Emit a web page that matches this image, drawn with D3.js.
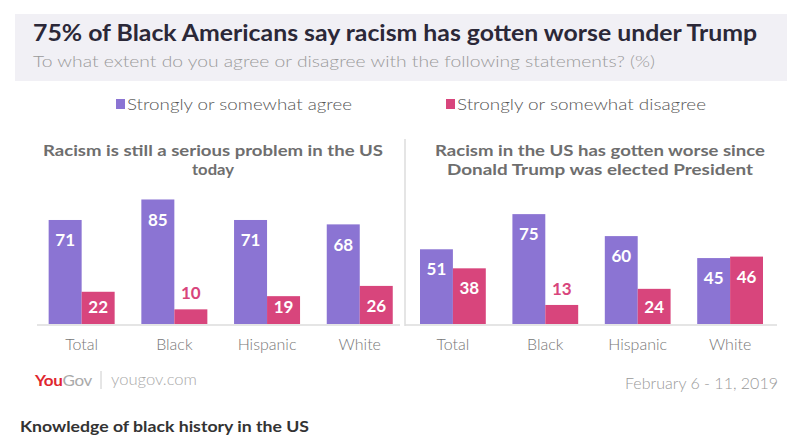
<!DOCTYPE html>
<html><head><meta charset="utf-8">
<script src="https://cdn.jsdelivr.net/npm/d3@7"></script>
<style>body{margin:0;background:#fff;}svg{display:block;font-family:Lato,"Open Sans",sans-serif;}</style>
</head><body><svg id="c" width="800" height="441"></svg>
<script>
const categories = ["Total","Black","Hispanic","White"];
const seriesNames = ["Strongly or somewhat agree","Strongly or somewhat disagree"];
const panelTitles = [["Racism is still a serious problem in the US","today"],["Racism in the US has gotten worse since","Donald Trump was elected President"]];
const p1Agree = [71,85,71,68];
const p1Disagree = [22,10,19,26];
const p2Agree = [51,75,60,45];
const p2Disagree = [38,13,24,46];
const colors = ["#8b74d3","#d8457c"];

const svg = d3.select("#c");
svg.append("rect").attr("x",15).attr("y",14).attr("width",772).attr("height",67).attr("fill","#f1f0f5");
svg.append("text").attr("x",33).attr("y",41).attr("font-size",22).attr("font-weight",700).attr("fill","#2b2838")
  .attr("textLength",724).attr("lengthAdjust","spacingAndGlyphs")
  .text("75% of Black Americans say racism has gotten worse under Trump");
svg.append("text").attr("x",33).attr("y",67).attr("font-size",16.5).attr("font-weight",300).attr("fill","#9a9a9a")
  .attr("textLength",622).attr("lengthAdjust","spacingAndGlyphs")
  .text("To what extent do you agree or disagree with the following statements? (%)");

// legend
const legX = [116,446], legW=[225,249];
seriesNames.forEach((s,i)=>{
  svg.append("rect").attr("x",legX[i]).attr("y",99).attr("width",9).attr("height",10).attr("fill",colors[i]);
  svg.append("text").attr("x",legX[i]+11).attr("y",110).attr("font-size",16).attr("font-weight",300).attr("fill","#555")
    .attr("textLength",legW[i]).attr("lengthAdjust","spacingAndGlyphs").text(s);
});

// divider
svg.append("line").attr("x1",405).attr("x2",405).attr("y1",139).attr("y2",326).attr("stroke","#ddd").attr("stroke-width",1.5);

const baseY = 324;
const y = d3.scaleLinear().domain([0,100]).range([baseY, baseY-146.5]);
const panels = [
  {range:[35.3,406.1], agree:p1Agree, dis:p1Disagree, title:panelTitles[0], cx:213, tl:[340,42], axis:[37,400]},
  {range:[406.7,776.3], agree:p2Agree, dis:p2Disagree, title:panelTitles[1], cx:600, tl:[330,306], axis:[405,777]}
];
panels.forEach(p=>{
  p.title.forEach((t,j)=>{
    svg.append("text").attr("x",p.cx).attr("y",156+j*19).attr("text-anchor","middle").attr("font-size",15.5).attr("font-weight",700).attr("fill","#6e6e6e")
      .attr("textLength",p.tl[j]).attr("lengthAdjust","spacingAndGlyphs").text(t);
  });
  const x0 = d3.scaleBand().domain(categories).range(p.range).paddingInner(0.288).paddingOuter(0.144);
  const x1 = d3.scaleBand().domain([0,1]).range([0,x0.bandwidth()]);
  svg.append("line").attr("x1",p.axis[0]).attr("x2",p.axis[1]).attr("y1",baseY+1).attr("y2",baseY+1).attr("stroke","#ddd").attr("stroke-width",1.5);
  categories.forEach((c,ci)=>{
    [p.agree[ci],p.dis[ci]].forEach((v,si)=>{
      const bx = x0(c)+x1(si), top = y(v);
      svg.append("rect").attr("x",bx).attr("y",top).attr("width",x1.bandwidth()).attr("height",baseY-top).attr("fill",colors[si]);
      const inside = baseY-top > 25;
      const ly = inside ? Math.min(top+20, baseY-17) : top-16;
      svg.append("text").attr("x",bx+x1.bandwidth()/2).attr("y",ly).attr("dy","0.36em").attr("text-anchor","middle")
        .attr("font-size",17).attr("font-weight",700).attr("fill",inside?"#fff":colors[si]).text(v);
    });
    svg.append("text").attr("x",x0(c)+x0.bandwidth()/2).attr("y",350).attr("text-anchor","middle").attr("font-size",16).attr("font-weight",300).attr("fill","#777").text(c);
  });
});

// footer
const ft = svg.append("text").attr("x",35).attr("y",386).attr("font-size",16).attr("font-weight",700).attr("letter-spacing","-0.3")
  .attr("textLength",57).attr("lengthAdjust","spacingAndGlyphs");
ft.append("tspan").attr("fill","#e0262f").text("You");
ft.append("tspan").attr("fill","#aaa").attr("font-weight",400).text("Gov");
svg.append("line").attr("x1",101).attr("x2",101).attr("y1",371).attr("y2",389).attr("stroke","#ccc");
svg.append("text").attr("x",111).attr("y",385).attr("font-size",15).attr("font-weight",300).attr("fill","#aaa")
  .attr("textLength",86).attr("lengthAdjust","spacingAndGlyphs").text("yougov.com");
svg.append("text").attr("x",778).attr("y",389).attr("text-anchor","end").attr("font-size",15.5).attr("font-weight",300).attr("fill","#999")
  .attr("textLength",153).attr("lengthAdjust","spacingAndGlyphs").text("February 6 - 11, 2019");
svg.append("text").attr("x",20).attr("y",432).attr("font-size",16).attr("font-weight",700).attr("fill","#333")
  .attr("textLength",289).attr("lengthAdjust","spacingAndGlyphs").text("Knowledge of black history in the US");
</script></body></html>
